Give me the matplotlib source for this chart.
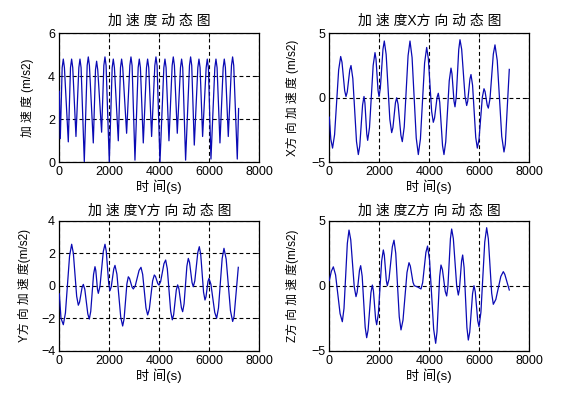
import matplotlib
matplotlib.use("Agg")
import matplotlib.pyplot as plt

plt.rcParams['font.family'] = ['Liberation Sans', 'Noto Sans CJK SC', 'DejaVu Sans']

# ---- data ----
t_total = [0, 40, 115, 160, 205, 360, 448, 493, 538, 667, 782, 827, 872, 1000,
           1115, 1160, 1205, 1360, 1448, 1493, 1538, 1693, 1782, 1827, 1872, 2000,
           2115, 2160, 2205, 2360, 2448, 2493, 2538, 2693, 2822, 2867, 2912, 3027,
           3155, 3200, 3245, 3360, 3488, 3533, 3578, 3693, 3822, 3867, 3912, 4027,
           4182, 4227, 4272, 4387, 4515, 4560, 4605, 4720, 4848, 4893, 4938, 5053,
           5208, 5253, 5298, 5400, 5542, 5587, 5632, 5733, 5875, 5920, 5965, 6067,
           6222, 6267, 6312, 6427, 6555, 6600, 6645, 6760, 6888, 6933, 6978, 7120,
           7173]
a_total = [3.3, 1.1, 4.4, 4.8, 4.4, 0.95, 4.4, 4.8, 4.4, 1.2, 4.4, 4.8, 4.4, 0.03,
           4.5, 4.9, 4.5, 0.9, 4.3, 4.7, 4.3, 1.4, 4.5, 4.9, 4.5, 0.0,
           4.4, 4.8, 4.4, 1.0, 4.4, 4.8, 4.4, 1.35, 4.5, 4.9, 4.5, 0.1,
           4.4, 4.8, 4.4, 0.9, 4.4, 4.8, 4.4, 1.2, 4.5, 4.9, 4.5, 0.0,
           4.4, 4.8, 4.4, 1.0, 4.5, 4.9, 4.5, 1.35, 4.4, 4.8, 4.4, 0.1,
           4.5, 4.9, 4.5, 0.8, 4.4, 4.8, 4.4, 1.2, 4.4, 4.8, 4.4, 0.15,
           4.4, 4.8, 4.4, 0.9, 4.4, 4.8, 4.4, 1.2, 4.5, 4.9, 4.5, 0.15,
           2.5]

t_x = [0, 60, 130, 211, 374, 455, 508, 615, 668, 718, 818, 868, 941, 1088, 1161,
       1218, 1331, 1388, 1425, 1498, 1535, 1608, 1755, 1828, 1868, 1948, 1988,
       2041, 2147, 2200, 2274, 2421, 2495, 2545, 2645, 2695, 2751, 2864, 2920,
       2997, 3151, 3228, 3311, 3478, 3561, 3645, 3812, 3895, 3961, 4094, 4160,
       4210, 4310, 4360, 4417, 4530, 4587, 4657, 4798, 4868, 4908, 4988, 5028,
       5078, 5178, 5228, 5295, 5428, 5495, 5538, 5625, 5668, 5731, 5858, 5921,
       5988, 6121, 6188, 6231, 6318, 6361, 6428, 6561, 6628, 6718, 6898, 6988,
       7041, 7200]
a_x = [-1.5, -3.2, -3.9, -2.86, 2.16, 3.2, 2.75, 0.55, 0.1, 0.45, 2.15, 2.5, 1.49,
       -3.39, -4.4, -3.74, -0.56, 0.1, -0.4, -2.8, -3.3, -2.31, 2.51, 3.5, 3.0,
       0.6, 0.1, 0.73, 3.77, 4.4, 3.36, -1.66, -2.7, -2.31, -0.39, 0.0, -0.5,
       -2.9, -3.4, -2.26, 3.26, 4.4, 3.12, -3.12, -4.4, -3.19, 2.69, 3.9, 3.05,
       -1.05, -1.9, -1.57, 0.02, 0.35, -0.34, -3.71, -4.4, -3.42, 1.32, 2.3, 1.86,
       -0.26, -0.7, 0.06, 3.74, 4.5, 3.76, 0.14, -0.6, -0.25, 1.45, 1.8, 0.97,
       -3.07, -3.9, -3.23, 0.03, 0.7, 0.48, -0.58, -0.8, -0.08, 3.38, 4.1, 2.89,
       -2.99, -4.2, -3.6, 2.2]

t_y = [0, 68, 161, 245, 411, 495, 562, 695, 761, 811, 911, 961, 1021, 1141, 1201,
       1258, 1371, 1428, 1461, 1528, 1561, 1628, 1761, 1828, 1878, 1978, 2028,
       2078, 2178, 2228, 2305, 2458, 2535, 2592, 2704, 2761, 2811, 2911, 2961,
       3038, 3191, 3268, 3335, 3468, 3535, 3602, 3734, 3801, 3848, 3941, 3988,
       4055, 4188, 4255, 4321, 4455, 4521, 4574, 4681, 4735, 4785, 4885, 4935,
       4991, 5104, 5161, 5211, 5311, 5361, 5421, 5541, 5601, 5658, 5771, 5828,
       5868, 5948, 5988, 6065, 6218, 6295, 6368, 6515, 6588, 6675, 6848, 6935,
       6991, 7161]
a_y = [-0.5, -2.0, -2.4, -1.68, 1.83, 2.55, 2.0, -0.65, -1.2, -1.01, -0.11, 0.08,
       -0.23, -1.74, -2.05, -1.58, 0.7, 1.17, 0.93, -0.23, -0.47, -0.03, 2.11,
       2.55, 2.13, 0.12, -0.3, -0.07, 1.02, 1.25, 0.71, -1.94, -2.48, -2.04, 0.11,
       0.55, 0.44, -0.09, -0.2, -0.01, 0.94, 1.13, 0.7, -1.37, -1.8, -1.44, 0.3,
       0.66, 0.57, 0.13, 0.04, 0.26, 1.36, 1.58, 1.04, -1.56, -2.1, -1.79, -0.26,
       0.05, -0.19, -1.36, -1.6, -1.12, 1.2, 1.68, 1.43, 0.19, -0.06, 0.3, 2.04,
       2.4, 1.92, -0.4, -0.88, -0.69, 0.26, 0.45, 0.09, -1.64, -2.0, -1.37, 1.67,
       2.3, 1.64, -1.54, -2.2, -1.9, 1.13]

t_z = [0, 80, 161, 251, 431, 521, 588, 721, 788, 858, 998, 1068, 1115, 1208, 1255,
       1315, 1435, 1495, 1552, 1665, 1721, 1765, 1852, 1895, 1962, 2095, 2161,
       2201, 2281, 2321, 2388, 2521, 2588, 2658, 2798, 2868, 2948, 3108, 3188,
       3241, 3348, 3401, 3535, 3668, 3734, 3865, 3930, 4011, 4174, 4255, 4308,
       4415, 4468, 4525, 4638, 4695, 4745, 4845, 4895, 4962, 5095, 5161, 5205,
       5292, 5335, 5392, 5505, 5561, 5618, 5731, 5788, 5838, 5938, 5988, 6065,
       6218, 6295, 6362, 6495, 6561, 6661, 6861, 6961, 7021, 7200]
a_z = [0.4, 1.1, 1.45, 0.83, -2.15, -2.77, -1.74, 3.25, 4.28, 3.53, -0.09, -0.84,
       -0.49, 1.19, 1.54, 0.73, -3.19, -4.0, -3.41, -0.54, 0.05, -0.4, -2.55,
       -3.0, -2.16, 1.91, 2.75, 2.35, 0.4, 0.0, 0.51, 2.99, 3.5, 2.49, -2.39,
       -3.4, -2.65, 1.02, 1.77, 1.51, 0.26, 0.0, -0.1, -0.25, 0.23, 2.57, 3.05,
       1.96, -3.34, -4.43, -3.55, 0.71, 1.59, 1.24, -0.44, -0.79, -0.04, 3.61,
       4.36, 3.62, 0.02, -0.72, -0.27, 1.91, 2.36, 1.4, -3.22, -4.18, -3.57,
       -0.61, 0.0, -0.46, -2.69, -3.15, -2.04, 3.35, 4.46, 3.6, -0.57, -1.43,
       -1.06, 0.71, 1.08, 0.87, -0.33]

x_ticks = [0, 2000, 4000, 6000, 8000]

panels = [
    dict(t=t_total, a=a_total, title='加 速 度 动 态 图', ylabel='加 速 度 (m/s2)',
         ylim=(0, 6), yticks=[0, 2, 4, 6], rect=[0.1033, 0.5912, 0.3484, 0.3250],
         ylx=-0.125, pad=6),
    dict(t=t_x, a=a_x, title='加 速 度X方 向 动 态 图', ylabel='X方 向 加 速 度 (m/s2)',
         ylim=(-5, 5), yticks=[-5, 0, 5], rect=[0.5737, 0.5912, 0.3484, 0.3250],
         ylx=-0.15, pad=6),
    dict(t=t_y, a=a_y, title='加 速 度Y方 向 动 态 图', ylabel='Y方 向 加 速 度(m/s2)',
         ylim=(-4, 4), yticks=[-4, -2, 0, 2, 4], rect=[0.1033, 0.1166, 0.3484, 0.3275],
         ylx=-0.14, pad=4),
    dict(t=t_z, a=a_z, title='加 速 度Z方 向 动 态 图', ylabel='Z方 向 加 速 度(m/s2)',
         ylim=(-5, 5), yticks=[-5, 0, 5], rect=[0.5737, 0.1166, 0.3484, 0.3275],
         ylx=-0.15, pad=4),
]

fig = plt.figure(figsize=(5.74, 3.97), dpi=100)
fig.patch.set_facecolor('white')

for p in panels:
    ax = fig.add_axes(p['rect'])
    ax.plot(p['t'], p['a'], color='#0a0ab4', lw=0.9, zorder=3)
    ax.set_xlim(0, 8000)
    ax.set_ylim(*p['ylim'])
    ax.set_xticks(x_ticks)
    ax.set_yticks(p['yticks'])
    ax.grid(True, color='black', lw=0.8, linestyle=(0, (3.5, 2.5)), zorder=1)
    ax.tick_params(direction='in', length=3, width=0.6, top=True, right=True,
                   labelsize=9, pad=3, colors='black')
    for s in ax.spines.values():
        s.set_linewidth(0.9)
        s.set_color('black')
    ax.set_title(p['title'], fontsize=10, pad=p['pad'])
    ax.set_xlabel('时 间(s)', fontsize=9.5, labelpad=1)
    ax.set_ylabel(p['ylabel'], fontsize=8.5)
    ax.yaxis.set_label_coords(p['ylx'], 0.5)

fig.savefig('out.png', dpi=100, facecolor='white')
